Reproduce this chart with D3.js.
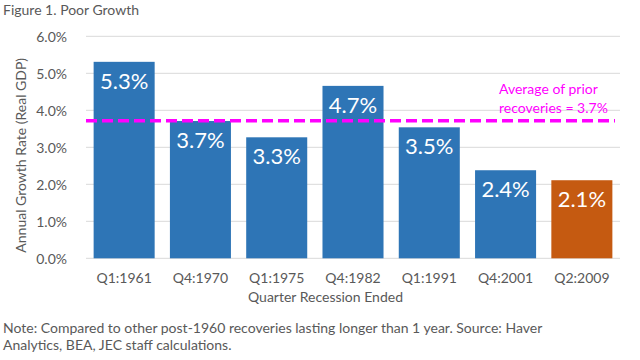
<!DOCTYPE html>
<html>
<head>
<meta charset="utf-8">
<script src="https://cdn.jsdelivr.net/npm/d3@7"></script>
<style>
  body { margin: 0; background: #fff; }
  text { font-family: Lato, "Open Sans", sans-serif; }
</style>
</head>
<body>
<div id="container"></div>
<script>
const categories = ["Q1:1961", "Q4:1970", "Q1:1975", "Q4:1982", "Q1:1991", "Q4:2001", "Q2:2009"];
const growth = [5.31, 3.71, 3.27, 4.66, 3.54, 2.38, 2.11];
const barLabels = ["5.3%", "3.7%", "3.3%", "4.7%", "3.5%", "2.4%", "2.1%"];
const yTicks = [0, 1, 2, 3, 4, 5, 6];
const average = 3.72;

const BLUE = "#2E75B6", ORANGE = "#C55A11", GREY = "#595959", MAGENTA = "#FF00FF";

const width = 640, height = 360;
const plotLeft = 86, plotRight = 620, plotTop = 36.3, plotBottom = 258.3;

const svg = d3.select("#container")
  .append("svg")
  .attr("width", width)
  .attr("height", height);

const x = d3.scaleBand()
  .domain(categories)
  .range([plotLeft, plotRight])
  .paddingInner(0.2)
  .paddingOuter(0.1);

const y = d3.scaleLinear()
  .domain([0, 6])
  .range([plotBottom, plotTop]);

// gridlines
svg.append("g")
  .selectAll("line")
  .data(yTicks)
  .join("line")
  .attr("x1", plotLeft)
  .attr("x2", plotRight)
  .attr("y1", d => y(d))
  .attr("y2", d => y(d))
  .attr("stroke", "#D9D9D9")
  .attr("stroke-width", 1);

// y axis labels
const yAxis = svg.append("g")
  .attr("transform", `translate(${plotLeft - 16},0)`)
  .call(d3.axisLeft(y).tickValues(yTicks).tickFormat(d => d.toFixed(1) + "%").tickSize(0));
yAxis.select(".domain").remove();
yAxis.selectAll("text")
  .attr("font-family", "Lato, sans-serif")
  .attr("font-size", "14px")
  .attr("fill", GREY)
  .attr("dy", "0.35em");

// bars
svg.append("g")
  .selectAll("rect")
  .data(growth)
  .join("rect")
  .attr("x", (d, i) => x(categories[i]))
  .attr("width", x.bandwidth())
  .attr("y", d => y(d))
  .attr("height", d => y(0) - y(d))
  .attr("fill", (d, i) => i == categories.length - 1 ? ORANGE : BLUE);

// average line
svg.append("line")
  .attr("x1", plotLeft)
  .attr("x2", 615)
  .attr("y1", y(average))
  .attr("y2", y(average))
  .attr("stroke", MAGENTA)
  .attr("stroke-width", 3.5)
  .attr("stroke-dasharray", "11,5");

// bar labels
svg.append("g")
  .selectAll("text")
  .data(growth)
  .join("text")
  .attr("x", (d, i) => x(categories[i]) + x.bandwidth() / 2)
  .attr("y", d => y(d) + 27)
  .attr("text-anchor", "middle")
  .attr("font-size", "22px")
  .attr("fill", "white")
  .text((d, i) => barLabels[i]);

// average annotation
const avgText = svg.append("text")
  .attr("font-size", "14px")
  .attr("fill", MAGENTA);
avgText.append("tspan").attr("x", 499).attr("y", 94.3).text("Average of prior");
avgText.append("tspan").attr("x", 499).attr("y", 113.3).text("recoveries = " + average.toFixed(1) + "%");

// x axis labels
const xAxis = svg.append("g")
  .attr("transform", `translate(0,${plotBottom})`)
  .call(d3.axisBottom(x).tickSize(0).tickPadding(0));
xAxis.select(".domain").remove();
xAxis.selectAll("text")
  .attr("font-family", "Lato, sans-serif")
  .attr("font-size", "14px")
  .attr("fill", GREY)
  .attr("dy", null)
  .attr("y", 25);

// axis titles
svg.append("text")
  .attr("x", 325.5)
  .attr("y", 301.7)
  .attr("text-anchor", "middle")
  .attr("font-size", "14px")
  .attr("fill", GREY)
  .text("Quarter Recession Ended");

svg.append("text")
  .attr("transform", `translate(26,${(plotTop + plotBottom) / 2 + 8}) rotate(-90)`)
  .attr("text-anchor", "middle")
  .attr("font-size", "14px")
  .attr("fill", GREY)
  .text("Annual Growth Rate (Real GDP)");

// title and note
svg.append("text")
  .attr("x", 3)
  .attr("y", 15)
  .attr("font-size", "14px")
  .attr("fill", GREY)
  .text("Figure 1. Poor Growth");

const note = svg.append("text")
  .attr("font-size", "14px")
  .attr("fill", GREY);
note.append("tspan").attr("x", 3).attr("y", 333)
  .text("Note: Compared to other post-1960 recoveries lasting longer than 1 year. Source: Haver");
note.append("tspan").attr("x", 3).attr("y", 350)
  .text("Analytics, BEA, JEC staff calculations.");
</script>
</body>
</html>
